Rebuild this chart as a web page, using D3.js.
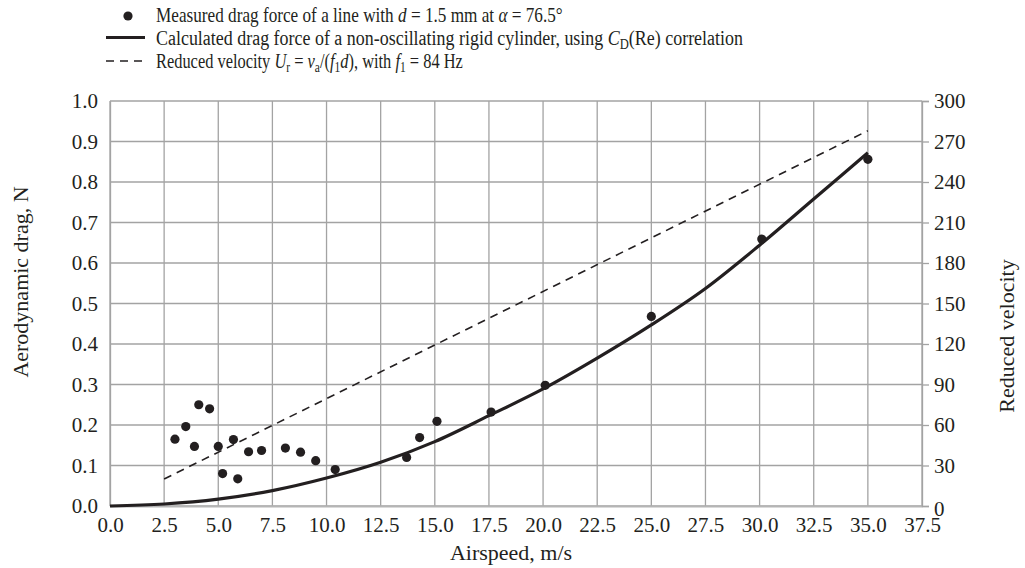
<!DOCTYPE html>
<html>
<head>
<meta charset="utf-8">
<script src="https://cdn.jsdelivr.net/npm/d3@7"></script>
<style>
  body { margin: 0; background: #fff; }
  text { font-family: "Liberation Serif", "DejaVu Serif", serif; fill: #231f20; }
</style>
</head>
<body>
<div id="chart"></div>
<script>
// measured drag points
var measSpeed = [3.0, 3.5, 3.9, 4.1, 4.6, 5.0, 5.2, 5.7, 5.9, 6.4, 7.0, 8.1, 8.8, 9.5, 10.4,
                 13.7, 14.3, 15.1, 17.6, 20.1, 25.0, 30.1, 35.0];
var measDrag = [0.165, 0.196, 0.147, 0.25, 0.24, 0.147, 0.08, 0.164, 0.067, 0.134, 0.137, 0.143, 0.133, 0.112, 0.09,
                0.12, 0.169, 0.209, 0.232, 0.298, 0.468, 0.659, 0.856];

// calculated cylinder drag curve
var calcSpeed = [0, 2.5, 5, 7.5, 10, 12.5, 15, 17.5, 20, 22.5, 25, 27.5, 30, 32.5, 35];
var calcDrag = [0, 0.005, 0.017, 0.038, 0.069, 0.108, 0.159, 0.223, 0.289, 0.365, 0.447, 0.537, 0.644, 0.758, 0.872];

// reduced velocity (right axis)
var urSpeed = [2.5, 35];
var urValue = [20, 278];

var xTicks = d3.range(0, 37.6, 2.5);
var yTicks = d3.range(0, 1.01, 0.1);
var y2Ticks = d3.range(0, 301, 30);

var W = 1025, H = 568;
// note: "top" is taken by window.top, so use other names
var pLeft = 110, pRight = 922, pTop = 101, pBottom = 506;

var svg = d3.select("#chart").append("svg").attr("width", W).attr("height", H);

var x = d3.scaleLinear().domain([0, 37.5]).range([pLeft, pRight]);
var y = d3.scaleLinear().domain([0, 1]).range([pBottom, pTop]);
var y2 = d3.scaleLinear().domain([0, 300]).range([pBottom, pTop]);

var grid = "#a3a3a3";

// grid
svg.append("g").selectAll("line").data(xTicks).join("line")
  .attr("x1", d => x(d)).attr("x2", d => x(d))
  .attr("y1", pTop).attr("y2", pBottom)
  .attr("stroke", grid).attr("stroke-width", 1.3);
svg.append("g").selectAll("line").data(yTicks).join("line")
  .attr("x1", pLeft).attr("x2", pRight)
  .attr("y1", d => y(d)).attr("y2", d => y(d))
  .attr("stroke", grid).attr("stroke-width", 1.3);

// bottom axis
var xAxis = svg.append("g").attr("transform", "translate(0," + pBottom + ")")
  .call(d3.axisBottom(x).tickValues(xTicks).tickFormat(d3.format(".1f")).tickSize(0).tickPadding(11));
xAxis.select(".domain").attr("stroke", "#b5b5b5").attr("stroke-width", 2);

// left axis
var yAxis = svg.append("g").attr("transform", "translate(" + pLeft + ",0)")
  .call(d3.axisLeft(y).tickValues(yTicks).tickFormat(d3.format(".1f")).tickSize(0).tickPadding(12));
yAxis.select(".domain").attr("stroke", grid).attr("stroke-width", 1.3);

// right axis
var y2Axis = svg.append("g").attr("transform", "translate(" + pRight + ",0)")
  .call(d3.axisRight(y2).tickValues(y2Ticks).tickSize(7).tickPadding(5));
y2Axis.select(".domain").attr("stroke", grid).attr("stroke-width", 1.3);
y2Axis.selectAll(".tick line").attr("stroke", grid).attr("stroke-width", 1.3);

svg.selectAll(".tick text").attr("font-size", 21).attr("fill", "#231f20")
  .attr("font-family", "'Liberation Serif', serif");
y2Axis.selectAll(".tick text").filter(d => d === 0).attr("dy", "0.45em");

// axis titles
svg.append("text").attr("x", 511).attr("y", 560).attr("text-anchor", "middle")
  .attr("font-size", 22).text("Airspeed, m/s");
svg.append("text").attr("transform", "translate(28,282) rotate(-90)").attr("text-anchor", "middle")
  .attr("font-size", 22).text("Aerodynamic drag, N");
svg.append("text").attr("transform", "translate(1014,336) rotate(-90)").attr("text-anchor", "middle")
  .attr("font-size", 22).text("Reduced velocity");

// dashed reduced velocity line
var urLine = d3.line().x(d => x(d[0])).y(d => y2(d[1]));
svg.append("path").datum(d3.zip(urSpeed, urValue))
  .attr("d", urLine).attr("fill", "none")
  .attr("stroke", "#231f20").attr("stroke-width", 1.6).attr("stroke-dasharray", "8,6");

// calculated drag curve
var calcLine = d3.line().x(d => x(d[0])).y(d => y(d[1])).curve(d3.curveMonotoneX);
svg.append("path").datum(d3.zip(calcSpeed, calcDrag))
  .attr("d", calcLine).attr("fill", "none")
  .attr("stroke", "#231f20").attr("stroke-width", 3.2);

// measured points
svg.append("g").selectAll("circle").data(d3.zip(measSpeed, measDrag)).join("circle")
  .attr("cx", d => x(d[0])).attr("cy", d => y(d[1])).attr("r", 4.6)
  .attr("fill", "#231f20");

// legend - the source type is tall but narrow, so scale each line to its measured width
function richText(g, px, py, parts, len) {
  var t = g.append("text").attr("x", 0).attr("y", 0).attr("font-size", 20);
  var shifted = false;
  parts.forEach(function(p) {
    var s = t.append("tspan").text(p.t);
    if (p.i) s.attr("font-style", "italic");
    if (p.sub && !shifted) { s.attr("dy", 4).attr("font-size", 14); shifted = true; }
    else if (p.sub) { s.attr("font-size", 14); }
    else if (shifted) { s.attr("dy", -4); shifted = false; }
  });
  var k = len / t.node().getComputedTextLength();
  t.attr("transform", "translate(" + px + "," + py + ") scale(" + k + ",1)");
  return t;
}

var lg = svg.append("g");
lg.append("circle").attr("cx", 128).attr("cy", 16).attr("r", 4.6).attr("fill", "#231f20");
lg.append("line").attr("x1", 106).attr("x2", 145).attr("y1", 37.5).attr("y2", 37.5)
  .attr("stroke", "#231f20").attr("stroke-width", 3);
lg.append("line").attr("x1", 106).attr("x2", 145).attr("y1", 61).attr("y2", 61)
  .attr("stroke", "#231f20").attr("stroke-width", 1.6).attr("stroke-dasharray", "8,6");

richText(lg, 156, 22, [
  {t: "Measured drag force of a line with "}, {t: "d", i: true}, {t: " = 1.5 mm at "},
  {t: "α", i: true}, {t: " = 76.5°"}
], 407);
richText(lg, 156, 45, [
  {t: "Calculated drag force of a non-oscillating rigid cylinder, using "}, {t: "C", i: true},
  {t: "D", sub: true}, {t: "(Re) correlation"}
], 587);
richText(lg, 156, 68, [
  {t: "Reduced velocity "}, {t: "U", i: true}, {t: "r", sub: true}, {t: " = "},
  {t: "v", i: true}, {t: "a", sub: true}, {t: "/("}, {t: "f", i: true}, {t: "1", sub: true},
  {t: "d", i: true}, {t: "), with "}, {t: "f", i: true}, {t: "1", sub: true}, {t: " = 84 Hz"}
], 307);
</script>
</body>
</html>
